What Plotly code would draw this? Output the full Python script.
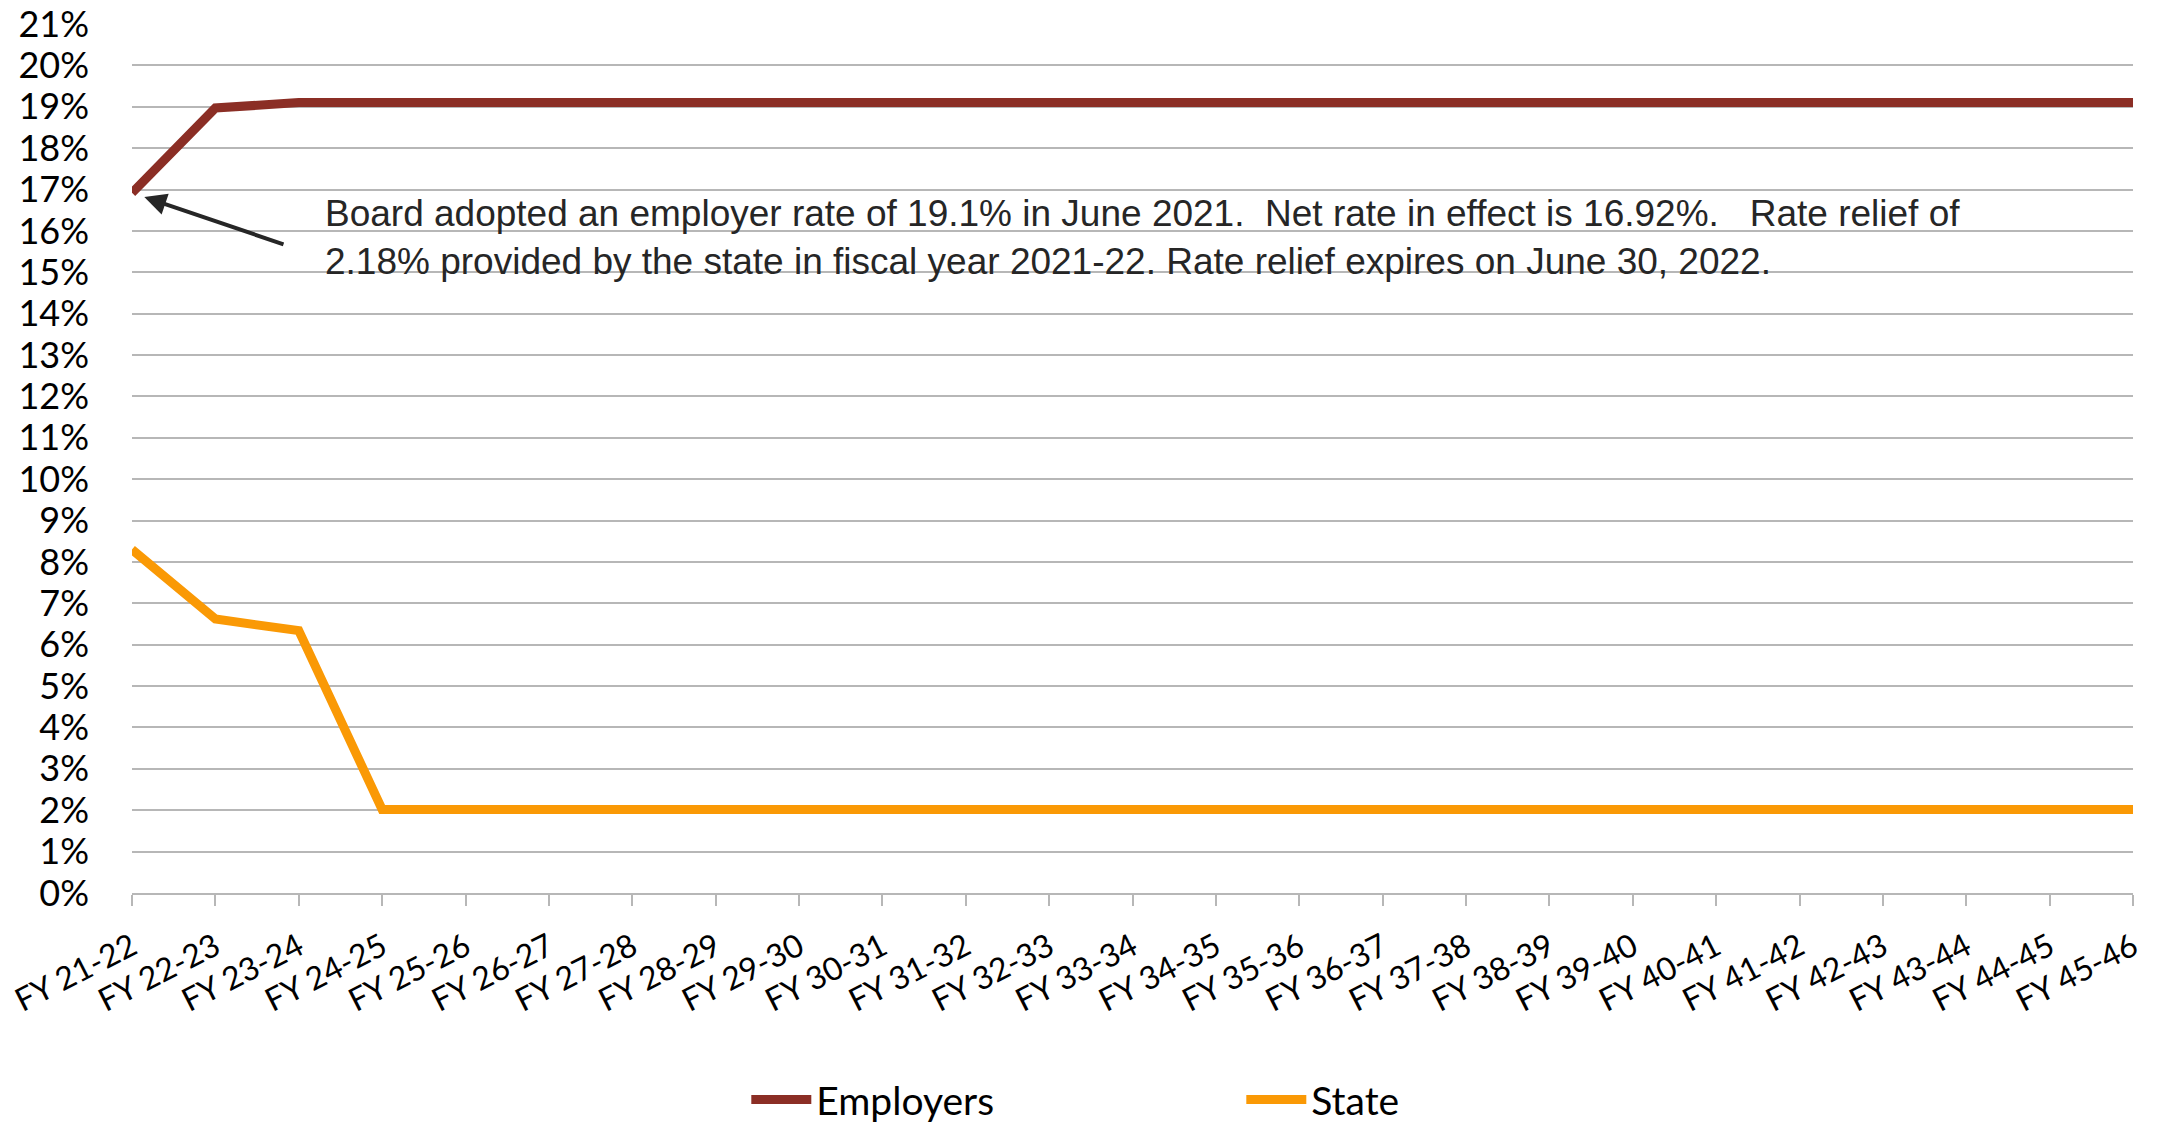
import plotly.graph_objects as go

# Fiscal years and contribution rates (percent of payroll)
fiscal_years = [
    "FY 21-22", "FY 22-23", "FY 23-24", "FY 24-25", "FY 25-26", "FY 26-27",
    "FY 27-28", "FY 28-29", "FY 29-30", "FY 30-31", "FY 31-32", "FY 32-33",
    "FY 33-34", "FY 34-35", "FY 35-36", "FY 36-37", "FY 37-38", "FY 38-39",
    "FY 39-40", "FY 40-41", "FY 41-42", "FY 42-43", "FY 43-44", "FY 44-45",
    "FY 45-46",
]
employers_rate = [16.92, 18.97] + [19.10] * 23
state_rate = [8.30, 6.62, 6.34] + [2.02] * 22

y_ticks = list(range(0, 22))
y_tick_labels = [f"{v}%" for v in y_ticks]

note_text = (
    "Board adopted an employer rate of 19.1% in June 2021.  Net rate in effect is 16.92%.   Rate relief of<br>"
    "2.18% provided by the state in fiscal year 2021-22. Rate relief expires on June 30, 2022."
)

EMP_COLOR = "#8B2E25"
STATE_COLOR = "#FA9905"
GRID = "#B7B7B7"
LABEL_FONT = "Lato"

fig = go.Figure()
fig.add_trace(go.Scatter(
    x=fiscal_years, y=employers_rate, mode="lines", name="Employers",
    line=dict(color=EMP_COLOR, width=9),
))
fig.add_trace(go.Scatter(
    x=fiscal_years, y=state_rate, mode="lines", name="State",
    line=dict(color=STATE_COLOR, width=9),
))

# Note on the first-year net employer rate
fig.add_annotation(
    x=2.29, y=15.85, xref="x", yref="y", xanchor="left", yanchor="middle",
    text=note_text, showarrow=False, align="left",
    font=dict(family="Liberation Sans, Arial", size=37, color="#262626"),
)
fig.add_annotation(
    x=0, y=employers_rate[0], xref="x", yref="y", text="",
    showarrow=True, ax=153, ay=52, arrowhead=2, arrowsize=1.1,
    arrowwidth=4, arrowcolor="#262626", standoff=13,
)

fig.update_layout(
    width=2162, height=1129,
    margin=dict(l=132, r=29, t=24, b=236),
    paper_bgcolor="white", plot_bgcolor="white",
    font=dict(family=LABEL_FONT, color="black"),
    showlegend=True,
    legend=dict(
        orientation="h", x=0.307, xanchor="left",
        yref="container", y=0.026, yanchor="middle",
        font=dict(family=LABEL_FONT, size=39, color="black"),
        entrywidth=420, itemwidth=60,
    ),
    xaxis=dict(
        type="category", range=[0, 24], automargin=False,
        showgrid=False, zeroline=False,
        showline=True, linecolor=GRID, linewidth=2,
        ticks="outside", ticklen=11, tickcolor=GRID, tickwidth=2,
        tickangle=-27, tickfont=dict(family=LABEL_FONT, size=32, color="black"),
        ticklabelstandoff=10,
    ),
    yaxis=dict(
        range=[0, 21], tickvals=y_ticks, ticktext=y_tick_labels, automargin=False,
        showgrid=True, gridcolor=GRID, gridwidth=2,
        zeroline=False, showline=False, ticks="",
        tickfont=dict(family=LABEL_FONT, size=36, color="black"),
        ticklabelstandoff=42,
    ),
)

fig.write_html("out.html")
